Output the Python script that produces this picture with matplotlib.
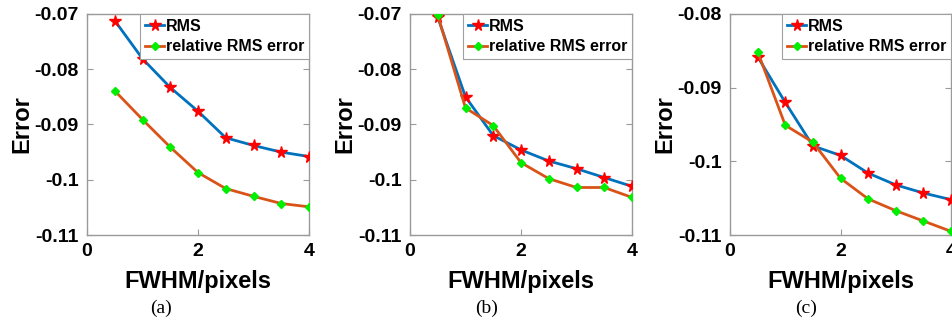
import matplotlib
matplotlib.use("Agg")
import matplotlib.pyplot as plt

plt.rcParams['font.family'] = ['Liberation Sans', 'DejaVu Sans']
plt.rcParams['axes.unicode_minus'] = False

fwhm = [0.5, 1.0, 1.5, 2.0, 2.5, 3.0, 3.5, 4.0]

rms_a = [-0.0712, -0.0781, -0.0833, -0.0876, -0.0924, -0.0938, -0.0950, -0.0958]
rel_a = [-0.0839, -0.0891, -0.0941, -0.0987, -0.1016, -0.1030, -0.1043, -0.1049]

rms_b = [-0.0706, -0.0850, -0.0920, -0.0946, -0.0966, -0.0980, -0.0996, -0.1012]
rel_b = [-0.0702, -0.0870, -0.0902, -0.0969, -0.0998, -0.1014, -0.1014, -0.1032]

rms_c = [-0.0858, -0.0920, -0.0979, -0.0992, -0.1016, -0.1032, -0.1043, -0.1052]
rel_c = [-0.0851, -0.0951, -0.0974, -0.1023, -0.1051, -0.1067, -0.1081, -0.1095]

yticks_ab = [-0.11, -0.10, -0.09, -0.08, -0.07]
ylabels_ab = ['-0.11', '-0.1', '-0.09', '-0.08', '-0.07']
yticks_c = [-0.11, -0.10, -0.09, -0.08]
ylabels_c = ['-0.11', '-0.1', '-0.09', '-0.08']
xticks = [0, 2, 4]
captions = ['(a)', '(b)', '(c)']

panels = [
    (rms_a, rel_a, yticks_ab, ylabels_ab),
    (rms_b, rel_b, yticks_ab, ylabels_ab),
    (rms_c, rel_c, yticks_c, ylabels_c),
]

W, H = 952, 325
fig = plt.figure(figsize=(W / 100, H / 100), dpi=100)

# axes boxes in pixels: left, right
boxes = [(87, 309), (410, 632), (730, 951)]
top_px, bot_px = 14, 235
caption_x = [161, 487, 806]

spine_col = '#9a9a9a'

for (rms, rel, yt, yl), (l, r), cx, cap in zip(panels, boxes, caption_x, captions):
    ax = fig.add_axes([l / W, (H - bot_px) / H, (r - l) / W, (bot_px - top_px) / H])
    ax.plot(fwhm, rms, '-', color='#0072BD', lw=2, marker='*', ms=8.5,
            mfc='red', mec='red', label='RMS', zorder=3)
    ax.plot(fwhm, rel, '-', color='#D95319', lw=2, marker='D', ms=4.5,
            mfc='#00EE00', mec='#00EE00', label='relative RMS error', zorder=3)
    ax.set_xlim(0, 4)
    ax.set_ylim(yt[0], yt[-1])
    ax.set_xticks(xticks)
    ax.set_xticklabels([str(v) for v in xticks])
    ax.set_yticks(yt)
    ax.set_yticklabels(yl)
    for lab in ax.get_xticklabels() + ax.get_yticklabels():
        lab.set_fontweight('bold')
        lab.set_fontsize(14)
    ax.tick_params(direction='in', length=4, width=0.8, color=spine_col,
                   top=True, right=True, pad=6)
    for s in ax.spines.values():
        s.set_color(spine_col)
        s.set_linewidth(1)
    ax.set_xlabel('FWHM/pixels', fontsize=17, fontweight='bold', labelpad=7)
    ax.set_ylabel('Error', fontsize=17, fontweight='bold', labelpad=1)
    leg = ax.legend(loc='upper right', borderaxespad=0,
                    prop={'weight': 'bold', 'size': 11.5}, handlelength=1.2,
                    handletextpad=0.1, borderpad=0.3, labelspacing=0.35,
                    fancybox=False, framealpha=1)
    leg.get_frame().set_edgecolor('#a0a0a0')
    leg.get_frame().set_linewidth(0.8)
    fig.text(cx / W, 1 - 308 / H, cap, ha='center', va='center',
             fontsize=14, family=['Liberation Serif', 'DejaVu Serif'])

fig.savefig('out.png', dpi=100)
